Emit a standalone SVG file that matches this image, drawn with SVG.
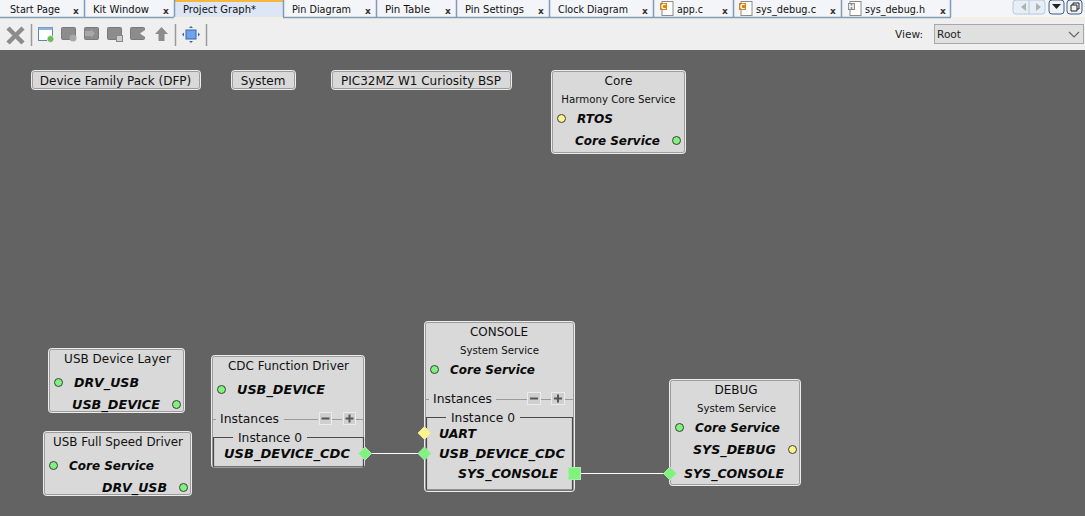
<svg xmlns="http://www.w3.org/2000/svg" width="1085" height="516" viewBox="0 0 1085 516">
<defs>
<style>
text{font-family:"DejaVu Sans","Liberation Sans",sans-serif;fill:#111}
.tab{font-size:11px;text-anchor:start}
.t{font-size:12px;text-anchor:middle}
.s{font-size:10.2px;text-anchor:middle}
.p{font-size:12.500px;font-weight:bold;font-style:italic;fill:#0a0a0a}
.l{font-size:12.300px}
.b{fill:#d9d9d9;stroke:#ececec;stroke-width:1}
.bi{fill:none;stroke:#9c9c9c;stroke-width:1}
.g{fill:#7ef47e;stroke:#3d3d3d;stroke-width:1}
.gd{fill:#7ef47e;stroke:#b0e8b0;stroke-width:1}
.y{fill:#fdf38a;stroke:#3d3d3d;stroke-width:1}
.yd{fill:#fdf38a;stroke:#e8e2b0;stroke-width:1}
.sep{stroke:#7f9db9;stroke-width:1.5}
.x{font-size:9px;font-weight:bold;text-anchor:middle;fill:#333}
.ic{font-size:7px;font-weight:bold;text-anchor:middle;fill:#fff}
.tool{fill:#8c8c8c;stroke:#7a7a7a}
.ts{stroke:#9a9a9a;stroke-width:1.5}
.line{stroke:#fff;stroke-width:1.2;fill:none}
.rule{stroke:#9a9a9a;stroke-width:1;fill:none}
.inst{fill:none;stroke:#4a4a4a;stroke-width:1.2}
.btn{fill:#cfcfcf;stroke:#ececec}
.gl{stroke:#555;stroke-width:2;fill:none}
.doc{fill:#fff;stroke:#8a8a8a}
</style>
</defs>
<rect width="1085" height="516" fill="#636363"/>
<g id="tabbar">
<rect width="1085" height="18" fill="#f3f5f8"/>
<rect x="174" y="0" width="109" height="18" fill="#dde6f5"/>
<rect x="174" y="0" width="109" height="2" fill="#f7b73d"/>
<rect y="17" width="1085" height="2" fill="#f3efe3"/>
<path class="sep" fill="none" d="M0 17.500H174M283 17.500H951"/>
<path class="sep" fill="none" d="M84.500 0V17M174.500 0V17M283.500 0V17M376.500 0V17M456.500 0V17M549.500 0V17M653.500 0V17M733.500 0V17M841.500 0V17M950.500 0V17"/>
<text class="tab" x="10" y="13" textLength="50" lengthAdjust="spacingAndGlyphs">Start Page</text><text class="x" x="76" y="13.500">x</text>
<text class="tab" x="93" y="13" textLength="56" lengthAdjust="spacingAndGlyphs">Kit Window</text><text class="x" x="166" y="13.500">x</text>
<text class="tab" x="183" y="13" textLength="73" lengthAdjust="spacingAndGlyphs">Project Graph*</text>
<text class="tab" x="292" y="13" textLength="59" lengthAdjust="spacingAndGlyphs">Pin Diagram</text><text class="x" x="368" y="13.500">x</text>
<text class="tab" x="385" y="13" textLength="45" lengthAdjust="spacingAndGlyphs">Pin Table</text><text class="x" x="448" y="13.500">x</text>
<text class="tab" x="465" y="13" textLength="59" lengthAdjust="spacingAndGlyphs">Pin Settings</text><text class="x" x="541" y="13.500">x</text>
<text class="tab" x="558" y="13" textLength="70" lengthAdjust="spacingAndGlyphs">Clock Diagram</text><text class="x" x="645" y="13.500">x</text>
<rect class="doc" x="662" y="1.500" width="11" height="14"/><rect x="660" y="3" width="7" height="7" fill="#d9820f"/><text class="ic" x="663.500" y="9">C</text>
<text class="tab" x="677" y="13" textLength="26" lengthAdjust="spacingAndGlyphs">app.c</text><text class="x" x="725" y="13.500">x</text>
<rect class="doc" x="741" y="1.500" width="11" height="14"/><rect x="739" y="3" width="7" height="7" fill="#d9820f"/><text class="ic" x="742.500" y="9">C</text>
<text class="tab" x="756" y="13" textLength="60" lengthAdjust="spacingAndGlyphs">sys_debug.c</text><text class="x" x="833" y="13.500">x</text>
<rect class="doc" x="850" y="1.500" width="11" height="14"/><rect x="848" y="3" width="7" height="7" fill="#888"/><text class="ic" x="851.500" y="9">H</text>
<text class="tab" x="865" y="13" textLength="60" lengthAdjust="spacingAndGlyphs">sys_debug.h</text><text class="x" x="943" y="13.500">x</text>
<rect x="1013" y="0" width="32" height="14" rx="3" fill="#e8eef5" stroke="#b5c8dc"/>
<path d="M1026 3V11L1021 7ZM1036 3V11L1041 7Z" fill="#b0b0b0"/>
<path d="M1029 0V14" stroke="#b5c8dc"/>
<rect x="1049" y="0" width="15" height="14" rx="3" fill="#eef2f6" stroke="#3d5f85"/>
<path d="M1052 4H1061L1056.500 9Z" fill="#222"/>
<rect x="1067" y="0" width="15" height="14" rx="3" fill="#eef2f6" stroke="#3d5f85"/>
<path d="M1071 5H1077V11H1071ZM1073 5V3H1079V9H1077" fill="none" stroke="#222"/>
</g>
<g id="toolbar">
<rect y="19" width="1085" height="31" fill="#efefef"/>
<path d="M8 28L23 43M23 28L8 43" stroke="#8c8c8c" stroke-width="4.500"/>
<path class="ts" d="M31.500 24V46M175.500 24V46M206.500 24V46"/>
<rect x="38.500" y="27.500" width="14" height="13" fill="#fff" stroke="#5b86b8"/><rect x="38.500" y="27.500" width="14" height="2.500" fill="#8fb4dc"/>
<circle cx="50.500" cy="39" r="3.500" fill="#6dbb5a" stroke="#fff" stroke-width=".7"/>
<rect x="61.500" y="27.500" width="14" height="12" rx="1" class="tool"/><circle cx="73" cy="38" r="3.500" fill="#a8a8a8"/>
<rect x="84.500" y="27.500" width="14" height="12" rx="1" class="tool"/><path d="M85 31H91V29L95 33.500L91 38V36H85Z" fill="#a8a8a8"/>
<rect x="107.500" y="27.500" width="14" height="12" rx="1" class="tool"/><rect x="116.500" y="35.500" width="6" height="6" fill="#ccc" stroke="#888"/>
<rect x="130.500" y="27.500" width="14" height="12" rx="1" class="tool"/><path d="M145 30L140 33.500L145 37" fill="#efefef"/>
<path d="M161.500 27L168 34H164.500V41H158.500V34H155Z" fill="#8c8c8c"/>
<rect x="186" y="30" width="10" height="9" fill="#6ea4ec" stroke="#3867a8"/>
<path d="M191 26L189 28H193ZM191 43L189 41H193ZM182 34.500L184 32.500V36.500ZM200 34.500L198 32.500V36.500Z" fill="#3867a8"/>
<text x="895" y="38" font-size="11" style="fill:#222" textLength="28" lengthAdjust="spacingAndGlyphs">View:</text>
<rect x="934.500" y="24.500" width="149" height="19" fill="#e0e0e0" stroke="#a8a8a8"/>
<text x="937" y="38" font-size="11" style="fill:#222" textLength="24" lengthAdjust="spacingAndGlyphs">Root</text>
<path d="M1069 32L1074 37L1079 32" fill="none" stroke="#666" stroke-width="1.200"/>
</g>
<g id="connectors">
<path class="line" d="M365 453.500H424"/>
<path class="line" d="M581 473.500H670"/>
</g>
<g id="node-dfp">
<rect class="b" x="31.500" y="70.500" width="169" height="19" rx="3"/><rect class="bi" x="32.500" y="71.500" width="167" height="17" rx="2"/>
<text class="t" x="115.500" y="85">Device Family Pack (DFP)</text>
</g>
<g id="node-system">
<rect class="b" x="231.500" y="70.500" width="64" height="19" rx="3"/><rect class="bi" x="232.500" y="71.500" width="62" height="17" rx="2"/>
<text class="t" x="263" y="85">System</text>
</g>
<g id="node-bsp">
<rect class="b" x="331.500" y="70.500" width="180" height="19" rx="3"/><rect class="bi" x="332.500" y="71.500" width="178" height="17" rx="2"/>
<text class="t" x="421" y="85" textLength="160" lengthAdjust="spacingAndGlyphs">PIC32MZ W1 Curiosity BSP</text>
</g>
<g id="node-core">
<rect class="b" x="551.500" y="70.500" width="134" height="83" rx="3"/><rect class="bi" x="552.500" y="71.500" width="132" height="81" rx="2"/>
<text class="t" x="618.500" y="85">Core</text>
<text class="s" x="618.500" y="103">Harmony Core Service</text>
<circle class="y" cx="561.500" cy="118.500" r="4"/>
<text class="p" x="577" y="123" textLength="36" lengthAdjust="spacingAndGlyphs">RTOS</text>
<text class="p" x="575" y="145" textLength="85" lengthAdjust="spacingAndGlyphs">Core Service</text>
<circle class="g" cx="676.500" cy="140.500" r="4"/>
</g>
<g id="node-usb-device-layer">
<rect class="b" x="48.500" y="348.500" width="136" height="64" rx="3"/><rect class="bi" x="49.500" y="349.500" width="134" height="62" rx="2"/>
<text class="t" x="117.500" y="363">USB Device Layer</text>
<circle class="g" cx="58.500" cy="382.500" r="4"/>
<text class="p" x="74" y="387" textLength="65" lengthAdjust="spacingAndGlyphs">DRV_USB</text>
<text class="p" x="72" y="409" textLength="88" lengthAdjust="spacingAndGlyphs">USB_DEVICE</text>
<circle class="g" cx="176.500" cy="404.500" r="4"/>
</g>
<g id="node-usb-full-speed">
<rect class="b" x="43.500" y="431.500" width="148" height="64" rx="3"/><rect class="bi" x="44.500" y="432.500" width="146" height="62" rx="2"/>
<text class="t" x="118" y="446" textLength="130" lengthAdjust="spacingAndGlyphs">USB Full Speed Driver</text>
<circle class="g" cx="53.500" cy="465.500" r="4"/>
<text class="p" x="69" y="470" textLength="85" lengthAdjust="spacingAndGlyphs">Core Service</text>
<text class="p" x="102" y="492" textLength="65" lengthAdjust="spacingAndGlyphs">DRV_USB</text>
<circle class="g" cx="183.500" cy="487.500" r="4"/>
</g>
<g id="node-cdc">
<rect class="b" x="211.500" y="355.500" width="153" height="112" rx="3"/><rect class="bi" x="212.500" y="356.500" width="151" height="110" rx="2"/>
<text class="t" x="288.500" y="370" textLength="121" lengthAdjust="spacingAndGlyphs">CDC Function Driver</text>
<circle class="g" cx="221.500" cy="389.500" r="4"/>
<text class="p" x="237" y="394" textLength="88" lengthAdjust="spacingAndGlyphs">USB_DEVICE</text>
<path class="rule" d="M212 419.500H216M284 419.500H318M332 419.500H342M356 419.500H364"/>
<text class="l" x="220" y="423" textLength="59" lengthAdjust="spacingAndGlyphs">Instances</text>
<rect class="btn" x="319.500" y="412.500" width="12" height="12"/><path class="gl" d="M321.500 418.500H329.500"/>
<rect class="btn" x="343.500" y="412.500" width="12" height="12"/><path class="gl" d="M345.500 418.500H353.500M349.500 414.500V422.500"/>
<path class="inst" d="M233 437.500H213.500V467H363.500V437.500H307"/>
<text class="l" x="238" y="441.500" textLength="64" lengthAdjust="spacingAndGlyphs">Instance 0</text>
<text class="p" x="224" y="458" textLength="126" lengthAdjust="spacingAndGlyphs">USB_DEVICE_CDC</text>
</g>
<g id="node-console">
<rect class="b" x="424.500" y="321.500" width="150" height="170" rx="3"/><rect class="bi" x="425.500" y="322.500" width="148" height="168" rx="2"/>
<text class="t" x="499" y="336" textLength="58" lengthAdjust="spacingAndGlyphs">CONSOLE</text>
<text class="s" x="499.500" y="354">System Service</text>
<circle class="g" cx="434.500" cy="369.500" r="4"/>
<text class="p" x="450" y="374" textLength="85" lengthAdjust="spacingAndGlyphs">Core Service</text>
<path class="rule" d="M425 399.500H429M496 399.500H527M541 399.500H551M565 399.500H574"/>
<text class="l" x="433" y="403" textLength="59" lengthAdjust="spacingAndGlyphs">Instances</text>
<rect class="btn" x="527.500" y="392.500" width="13" height="12"/><path class="gl" d="M530 398.500H538"/>
<rect class="btn" x="551.500" y="392.500" width="13" height="12"/><path class="gl" d="M554 398.500H562M558 394.500V402.500"/>
<path class="inst" d="M446 417.500H426.500V490H572.500V417.500H520"/>
<text class="l" x="451" y="422" textLength="64" lengthAdjust="spacingAndGlyphs">Instance 0</text>
<text class="p" x="439" y="438" textLength="37" lengthAdjust="spacingAndGlyphs">UART</text>
<text class="p" x="439" y="458" textLength="126" lengthAdjust="spacingAndGlyphs">USB_DEVICE_CDC</text>
<text class="p" x="458" y="478" textLength="100" lengthAdjust="spacingAndGlyphs">SYS_CONSOLE</text>
</g>
<g id="node-debug">
<rect class="b" x="669.500" y="379.500" width="131" height="106" rx="3"/><rect class="bi" x="670.500" y="380.500" width="129" height="104" rx="2"/>
<text class="t" x="736" y="394">DEBUG</text>
<text class="s" x="736.500" y="412">System Service</text>
<circle class="g" cx="679.500" cy="427.500" r="4"/>
<text class="p" x="695" y="432" textLength="85" lengthAdjust="spacingAndGlyphs">Core Service</text>
<text class="p" x="693" y="454" textLength="83" lengthAdjust="spacingAndGlyphs">SYS_DEBUG</text>
<circle class="y" cx="792.500" cy="449.500" r="4"/>
<text class="p" x="684" y="478" textLength="100" lengthAdjust="spacingAndGlyphs">SYS_CONSOLE</text>
</g>
<g id="ports">
<path class="gd" d="M365 447L371.500 453.500L365 460L358.500 453.500Z"/>
<path class="yd" d="M424.500 426.500L431 433L424.500 439.500L418 433Z"/>
<path class="gd" d="M424.500 447L431 453.500L424.500 460L418 453.500Z"/>
<rect x="568.500" y="467.500" width="12" height="12" fill="#7ef47e" stroke="#b0e8b0"/>
<path class="gd" d="M670 467L676.500 473.500L670 480L663.500 473.500Z"/>
</g>
</svg>
